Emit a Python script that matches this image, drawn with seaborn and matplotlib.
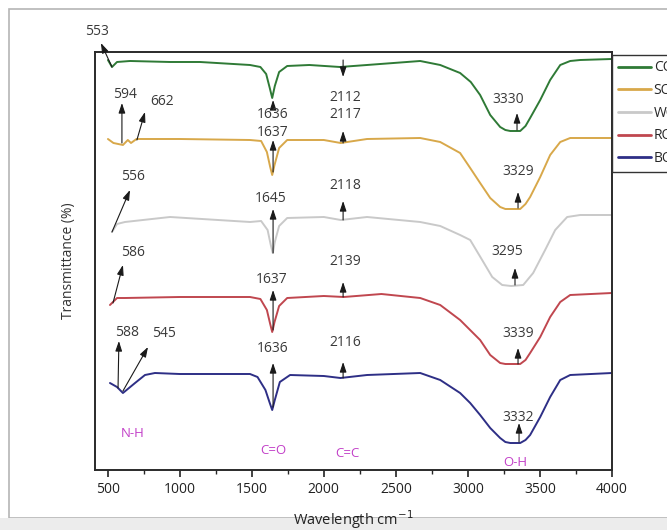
import pandas as pd
import matplotlib.pyplot as plt
import seaborn as sns
from matplotlib.patches import Rectangle

# ---------------- DATA (offset transmittance, a.u.) ----------------
samples = ["CO", "SO", "WO", "RO", "BO"]
colors = ["#2f7a36", "#d8a84a", "#c9c9c9", "#c0474f", "#2e2f86"]

co_wn = [502, 530, 565, 655, 933, 1141, 1488, 1560, 1600, 1625, 1642, 1660, 1690, 1746, 1900, 2112, 2300,
         2669, 2808, 2946, 3020, 3085, 3155, 3224, 3260, 3294, 3363, 3400, 3432, 3502, 3571, 3641, 3710, 3780, 4000]
co_t = [410, 403, 408, 409, 408, 408, 405, 403, 396, 382, 372, 384, 398, 404, 405, 403, 405,
        409, 405, 397, 388, 375, 355, 343, 340, 339, 339, 344, 352, 370, 390, 405, 409, 410, 411]

so_wn = [502, 540, 606, 640, 662, 700, 1000, 1488, 1565, 1605, 1628, 1642, 1658, 1690, 1746, 2000, 2117, 2300,
         2669, 2808, 2946, 3016, 3085, 3155, 3224, 3260, 3294, 3363, 3400, 3432, 3502, 3571, 3641, 3710, 4000]
so_t = [331, 327, 325, 330, 327, 331, 331, 330, 329, 318, 303, 295, 305, 322, 330, 330, 327, 331,
        332, 328, 317, 302, 287, 272, 263, 261, 261, 261, 266, 273, 293, 315, 328, 332, 332]

wo_wn = [530, 565, 620, 933, 1488, 1565, 1610, 1632, 1646, 1660, 1690, 1746, 2000, 2118, 2300, 2669, 2808,
         2946, 3016, 3099, 3169, 3238, 3300, 3384, 3453, 3536, 3606, 3689, 3780, 4000]
wo_t = [238, 246, 248, 253, 248, 249, 240, 225, 217, 228, 244, 252, 253, 250, 253, 248, 244,
        235, 230, 210, 193, 185, 184, 185, 197, 220, 240, 253, 255, 255]

ro_wn = [516, 565, 620, 1000, 1488, 1560, 1605, 1628, 1642, 1658, 1690, 1746, 2000, 2139, 2400, 2669, 2808,
         2946, 3085, 3155, 3224, 3260, 3294, 3363, 3400, 3432, 3502, 3571, 3641, 3710, 4000]
ro_t = [165, 172, 172, 173, 173, 171, 160, 146, 138, 148, 164, 172, 174, 173, 176, 172, 165,
        150, 130, 115, 107, 106, 106, 106, 110, 117, 133, 153, 168, 175, 177]

bo_wn = [516, 565, 606, 690, 759, 828, 1000, 1488, 1540, 1595, 1625, 1642, 1660, 1695, 1766, 2000, 2116, 2300,
         2669, 2808, 2946, 3016, 3085, 3155, 3224, 3260, 3294, 3363, 3400, 3432, 3502, 3571, 3641, 3710, 4000]
bo_t = [87, 83, 77, 87, 95, 97, 96, 96, 93, 80, 67, 60, 70, 88, 95, 94, 92, 95,
        97, 90, 77, 67, 55, 42, 32, 28, 27, 27, 30, 35, 53, 73, 90, 95, 97]

# peak labels: (text, tail x, tail y, head x, head y, text x, text y)
peaks = [
    ("553", 530, 403, 453, 427, 426, 438),
    ("1636", 1648, 362, 1648, 370, 1648, 355),
    ("2112", 2134, 410, 2134, 393, 2148, 372),
    ("3330", 3341, 340, 3341, 357, 3280, 370),
    ("594", 599, 327, 599, 367, 620, 375),
    ("662", 703, 330, 759, 358, 877, 368),
    ("1637", 1648, 298, 1648, 330, 1648, 337),
    ("2117", 2134, 327, 2134, 339, 2148, 355),
    ("3329", 3348, 262, 3348, 278, 3348, 298),
    ("556", 530, 238, 655, 280, 676, 293),
    ("1645", 1648, 217, 1648, 261, 1634, 271),
    ("2118", 2134, 250, 2134, 269, 2148, 284),
    ("3295", 3327, 185, 3327, 202, 3273, 218),
    ("586", 537, 167, 606, 205, 676, 217),
    ("1637", 1648, 140, 1648, 180, 1641, 190),
    ("2139", 2134, 173, 2134, 188, 2148, 208),
    ("3339", 3348, 106, 3348, 122, 3348, 137),
    ("588", 572, 82, 578, 129, 634, 138),
    ("545", 606, 79, 780, 123, 891, 137),
    ("1636", 1648, 63, 1648, 107, 1648, 122),
    ("2116", 2134, 92, 2134, 108, 2148, 128),
    ("3332", 3355, 28, 3355, 47, 3348, 53),
]

groups = ["N-H", "C=O", "C=C", "O-H"]
group_x = [676, 1648, 2162, 3328]
group_y = [37, 20, 17, 8]

# ---------------- LONG FORMAT ----------------
frames = []
for name, wn, t in zip(samples, [co_wn, so_wn, wo_wn, ro_wn, bo_wn], [co_t, so_t, wo_t, ro_t, bo_t]):
    frames.append(pd.DataFrame({"wavenumber": wn, "transmittance": t, "sample": name}))
df = pd.concat(frames, ignore_index=True)

# ---------------- PLOT ----------------
sns.set_style("white")
plt.rcParams["font.family"] = ["Open Sans", "DejaVu Sans"]

fig = plt.figure(figsize=(6.67, 5.30), dpi=100)
ax = fig.add_axes([0.1424, 0.1132, 0.7751, 0.7887])

sns.lineplot(data=df, x="wavenumber", y="transmittance", hue="sample", hue_order=samples,
             palette=colors, estimator=None, sort=True, lw=1.4, ax=ax)

ax.set_xlim(412, 4000)
ax.set_ylim(0, 418)
ax.set_yticks([])
ax.set_xticks([500, 1000, 1500, 2000, 2500, 3000, 3500, 4000])
ax.set_xticks([750, 1250, 1750, 2250, 2750, 3250, 3750], minor=True)
ax.tick_params(axis="x", which="major", direction="out", length=5, width=1.2,
               labelsize=10, colors="#222222", bottom=True)
ax.tick_params(axis="x", which="minor", direction="out", length=3, width=1.0, bottom=True)
for sp in ax.spines.values():
    sp.set_color("#2a2a2a")
    sp.set_linewidth(1.4)

ax.set_xlabel("Wavelength cm$^{-1}$", fontsize=10.5, color="#222222", labelpad=8)
ax.set_ylabel("Transmittance (%)", fontsize=10, color="#333333", labelpad=14)

for text, tx, ty, hx, hy, lx, ly in peaks:
    ax.annotate("", xy=(hx, hy), xytext=(tx, ty), annotation_clip=False,
                arrowprops=dict(arrowstyle="-|>,head_length=0.6,head_width=0.2",
                                color="#1a1a1a", lw=0.8, shrinkA=0, shrinkB=0))
    ax.text(lx, ly, text, fontsize=10, color="#3a3a3a", ha="center", va="center", clip_on=False)

for g, gx, gy in zip(groups, group_x, group_y):
    ax.text(gx, gy, g, fontsize=9.5, color="#c23fc8", ha="center", va="center")

sns.move_legend(ax, "upper left", bbox_to_anchor=(1.0, 0.993), borderaxespad=0,
                frameon=True, fancybox=False, edgecolor="#333333", framealpha=1,
                handlelength=2.4, labelspacing=0.55, borderpad=0.4, handletextpad=0.2,
                fontsize=10, title=None)
for line in ax.get_legend().get_lines():
    line.set_linewidth(2)

# outer frame of the original image
fig.patches.append(Rectangle((0.0135, 0.0226), 1.0, 0.9604, transform=fig.transFigure,
                             fill=False, edgecolor="#b5b5b5", lw=1.2, zorder=-1))
fig.patches.append(Rectangle((0, 0), 1, 0.0226, transform=fig.transFigure,
                             facecolor="#ececec", edgecolor="none", zorder=-1))

fig.savefig("out.png", dpi=100)
